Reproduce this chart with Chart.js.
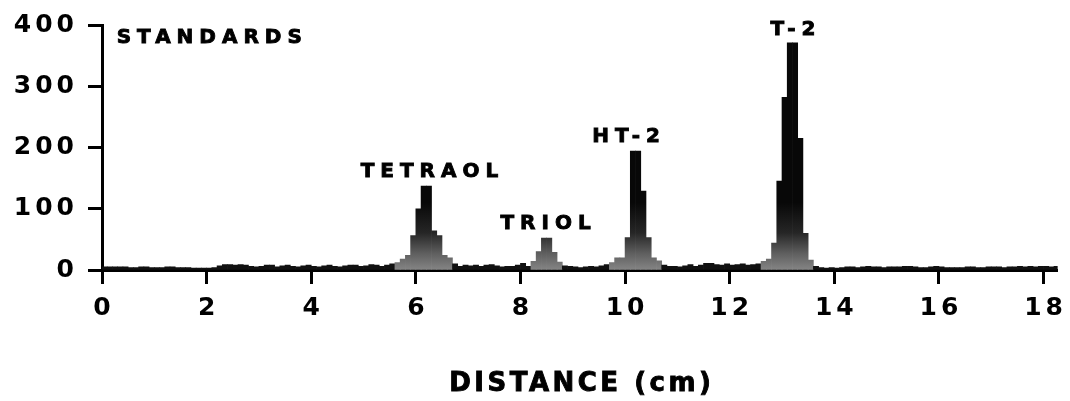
<!DOCTYPE html>
<html>
<head>
<meta charset="utf-8">
<script src="https://cdn.jsdelivr.net/npm/chart.js@4.4.0/dist/chart.umd.min.js"></script>
<style>
  html, body { margin: 0; background: #fff; }
</style>
</head>
<body>
<canvas id="chart" width="1070" height="401"></canvas>
<script>
// --- DATA ---
const binWidth = 0.1; // cm per counted slice of the strip
const counts = [
  5, 5, 5, 5, 5, 4, 4, 5, 5, 4,          // 0 - 1 cm
  4, 4, 5, 5, 4, 4, 4, 3, 3, 3,          // 1 - 2
  3, 4, 7, 9, 9, 8, 9, 8, 6, 5,          // 2 - 3
  6, 8, 8, 5, 7, 8, 6, 5, 7, 8,          // 3 - 4
  6, 5, 7, 8, 6, 5, 7, 8, 8, 6,          // 4 - 5
  7, 9, 8, 6, 8, 10, 12, 18, 24, 56,     // 5 - 6
  100, 137, 137, 64, 56, 24, 20, 10, 6, 8, // 6 - 7
  7, 8, 6, 8, 9, 7, 5, 6, 6, 8,          // 7 - 8
  11, 6, 14, 30, 52, 52, 29, 13, 7, 6,   // 8 - 9
  5, 4, 5, 6, 5, 7, 9, 12, 20, 20,       // 9 - 10
  53, 194, 194, 129, 53, 20, 15, 8, 6, 6, // 10 - 11
  5, 7, 9, 6, 8, 11, 11, 9, 8, 10,       // 11 - 12
  8, 9, 10, 8, 9, 10, 14, 18, 44, 145,   // 12 - 13
  282, 371, 371, 215, 60, 16, 6, 4, 3, 4, // 13 - 14
  3, 4, 5, 5, 4, 5, 6, 5, 5, 4,          // 14 - 15
  5, 5, 5, 6, 6, 5, 4, 4, 5, 6,          // 15 - 16
  5, 4, 4, 4, 4, 5, 5, 4, 4, 5,          // 16 - 17
  5, 5, 4, 5, 5, 6, 5, 6, 5, 6,          // 17 - 18
  6, 5, 6                                // 18 -
];
const xTicks = [0, 2, 4, 6, 8, 10, 12, 14, 16, 18];
const yTicks = [0, 100, 200, 300, 400];
const peakNames = ['TETRAOL', 'TRIOL', 'HT-2', 'T-2'];
const peakLabelX = [6.26, 8.48, 10.02, 13.21];
const peakLabelY = [161, 76, 218, 392];
const panelTitle = 'STANDARDS';
const axisTitle = 'DISTANCE (cm)';

// --- STYLE ---
const FONT = '"DejaVu Sans", "Liberation Sans", sans-serif';
const points = counts.map((v, i) => ({ x: (i + 0.5) * binWidth, y: v }));

// dark bars, greyer (stippled look) towards the foot of each peak
function barFill(ctx) {
  const chart = ctx.chart;
  const v = ctx.raw ? ctx.raw.y : 0;
  if (!chart.chartArea || v < 12) return '#111';
  const y = chart.scales.y;
  const g = chart.ctx.createLinearGradient(0, y.getPixelForValue(0), 0, y.getPixelForValue(110));
  g.addColorStop(0, '#858585');
  g.addColorStop(0.25, '#5e5e5e');
  g.addColorStop(0.55, '#262626');
  g.addColorStop(1, '#080808');
  return g;
}

// wide letter spacing like the lettering of the original
const lettering = {
  id: 'lettering',
  beforeDraw(chart) {
    chart.ctx.letterSpacing = '4px';
  },
  afterDraw(chart) {
    const { ctx, chartArea, scales } = chart;
    ctx.save();
    ctx.fillStyle = '#000';
    ctx.strokeStyle = '#000';
    ctx.lineWidth = 0.9;
    ctx.textBaseline = 'middle';

    ctx.letterSpacing = '6px';
    ctx.font = 'bold 20px ' + FONT;
    ctx.textAlign = 'left';
    const sx = scales.x.getPixelForValue(0.28), sy = scales.y.getPixelForValue(379);
    ctx.fillText(panelTitle, sx, sy);
    ctx.strokeText(panelTitle, sx, sy);

    ctx.textAlign = 'center';
    peakNames.forEach((name, i) => {
      const px = scales.x.getPixelForValue(peakLabelX[i]) + 3;
      const py = scales.y.getPixelForValue(peakLabelY[i]);
      ctx.fillText(name, px, py);
      ctx.strokeText(name, px, py);
    });

    ctx.letterSpacing = '3.5px';
    ctx.font = 'bold 26px ' + FONT;
    const tx = (chartArea.left + chartArea.right) / 2 + 2;
    ctx.fillText(axisTitle, tx, 384);
    ctx.strokeText(axisTitle, tx, 384);
    ctx.restore();
    ctx.letterSpacing = '0px';
  }
};

const axisGrid = {
  drawOnChartArea: false,
  drawTicks: true,
  tickLength: 14,
  tickWidth: 3,
  tickColor: '#000',
  offset: false
};

new Chart(document.getElementById('chart'), {
  type: 'bar',
  data: {
    datasets: [{
      data: points,
      backgroundColor: barFill,
      borderWidth: 0,
      barPercentage: 1,
      categoryPercentage: 1,
      grouped: false
    }]
  },
  options: {
    responsive: false,
    devicePixelRatio: 1,
    animation: false,
    layout: { padding: { top: 22, right: 5, left: 0, bottom: 0 } },
    plugins: {
      legend: { display: false },
      tooltip: { enabled: false }
    },
    scales: {
      x: {
        type: 'linear',
        offset: false,
        min: 0,
        max: 18.27,
        afterBuildTicks: s => { s.ticks = xTicks.map(v => ({ value: v })); },
        afterFit: s => { s.height = 131; },
        grid: axisGrid,
        border: { color: '#000', width: 3 },
        ticks: {
          color: '#000',
          font: { family: FONT, size: 25, weight: 'bold' },
          padding: 9,
          labelOffset: 2,
          maxRotation: 0,
          autoSkip: false
        }
      },
      y: {
        min: 0,
        max: 400,
        afterBuildTicks: s => { s.ticks = yTicks.map(v => ({ value: v })); },
        afterFit: s => { s.width = 102; },
        grid: axisGrid,
        border: { color: '#000', width: 3 },
        ticks: {
          color: '#000',
          font: { family: FONT, size: 25, weight: 'bold' },
          padding: 10
        }
      }
    }
  },
  plugins: [lettering]
});
</script>
</body>
</html>
